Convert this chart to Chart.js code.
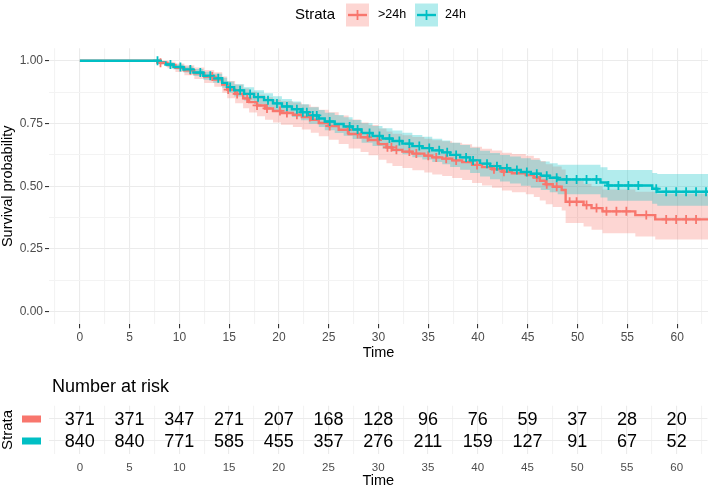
<!DOCTYPE html>
<html><head><meta charset="utf-8">
<script src="https://cdn.jsdelivr.net/npm/chart.js@4/dist/chart.umd.min.js"></script>
<style>
html,body{margin:0;padding:0;background:#fff;}
#wrap{position:relative;width:708px;height:490px;overflow:hidden;}
#c1{position:absolute;left:0;top:0;}
#c2{position:absolute;left:0;top:370px;}
</style></head><body>
<div id="wrap">
<canvas id="c1" width="708" height="370"></canvas>
<canvas id="c2" width="708" height="120"></canvas>
</div>
<script>
// ---------------- data ----------------
const strataLabels = ['>24h', '24h'];

const timeRed  = [0,8.1,8.8,9.6,10.5,11.5,12.5,13.5,14.3,14.8,15.6,16.4,17.0,17.8,18.6,19.4,20.2,21.4,22.3,23.2,24.0,25.0,26.0,27.0,28.2,29.0,30.0,30.8,31.4,32.4,33.4,34.6,35.4,36.4,37.4,38.4,39.4,40.4,41.4,42.4,43.4,44.8,45.6,46.2,46.8,47.5,48.4,48.8,50.6,51.4,52.5,55.8,57.8,63.5];
const survRed  = [1,.992,.983,.972,.962,.950,.937,.925,.905,.885,.868,.850,.835,.822,.810,.800,.792,.785,.776,.765,.752,.740,.725,.708,.695,.684,.668,.655,.645,.638,.630,.622,.615,.610,.603,.596,.585,.576,.568,.558,.552,.545,.535,.522,.508,.498,.485,.438,.425,.413,.400,.385,.368,.368];
const lowerRed = [1,.983,.970,.955,.942,.927,.911,.896,.873,.851,.831,.811,.794,.779,.765,.754,.745,.736,.726,.713,.699,.685,.668,.650,.636,.624,.606,.592,.581,.573,.564,.555,.547,.541,.533,.525,.513,.503,.494,.483,.476,.468,.457,.443,.428,.417,.403,.354,.340,.327,.313,.300,.288,.288];
const upperRed = [1,1,.996,.989,.982,.973,.963,.954,.937,.919,.905,.889,.876,.865,.855,.846,.839,.834,.826,.817,.805,.795,.782,.766,.754,.744,.730,.718,.709,.703,.696,.689,.683,.679,.673,.667,.657,.649,.642,.633,.628,.622,.613,.601,.588,.579,.567,.522,.510,.499,.487,.478,.470,.470];
const censorRed = [8.1,11.1,13.3,14.9,15.8,16.8,17.8,18.8,20.1,20.8,21.8,23.1,25.1,26.9,27.9,28.9,29.9,30.9,31.3,31.8,33.1,33.8,35.0,35.8,36.8,37.8,39.9,41.6,42.6,45.9,46.9,47.9,49.2,49.9,50.9,51.9,52.9,53.9,54.9,56.9,58.9,59.9,60.9,61.9];

const timeCyan  = [0,8.0,8.6,9.4,10.4,11.4,12.4,13.4,14.3,14.8,15.5,16.5,17.5,18.5,19.4,20.3,21.3,22.2,23.0,24.0,24.6,25.6,26.5,27.4,28.3,29.4,30.4,31.4,32.4,33.4,34.4,35.4,36.4,37.2,38.2,39.2,40.2,41.2,42.2,43.2,44.3,45.3,46.3,47.2,48.0,52.3,53.0,57.5,58.0,63.5];
const survCyan  = [1,.993,.985,.975,.965,.953,.940,.930,.912,.895,.882,.868,.855,.843,.830,.818,.807,.795,.782,.770,.758,.748,.738,.726,.712,.700,.690,.680,.670,.660,.652,.643,.635,.625,.615,.603,.590,.580,.572,.565,.557,.550,.542,.534,.527,.515,.503,.490,.478,.478];
const lowerCyan = [1,.987,.977,.965,.953,.939,.924,.912,.892,.873,.858,.842,.828,.815,.801,.788,.776,.763,.749,.736,.723,.712,.701,.688,.673,.660,.649,.638,.627,.616,.607,.597,.588,.577,.566,.553,.539,.528,.519,.511,.502,.494,.485,.476,.468,.455,.442,.430,.422,.422];
const upperCyan = [1,.999,.993,.985,.977,.967,.956,.948,.932,.917,.906,.894,.882,.871,.859,.848,.838,.827,.815,.804,.793,.784,.775,.764,.751,.740,.731,.722,.713,.704,.697,.689,.682,.673,.664,.653,.641,.632,.625,.619,.612,.606,.599,.592,.586,.576,.565,.553,.549,.549];
const censorCyan = [7.8,9.1,10.1,11.1,12.1,13.1,13.9,15.1,16.1,17.1,17.9,18.9,19.8,20.8,21.8,22.4,22.8,23.4,23.8,25.1,27.1,27.9,29.1,30.1,31.1,32.1,33.1,34.1,35.1,36.1,36.9,37.8,38.8,39.5,40.9,41.9,42.9,43.9,44.9,45.9,46.9,47.9,48.9,49.9,50.9,51.9,53.1,54.1,55.1,56.1,57.9,58.9,59.9,60.9,61.9,62.9];

const riskTimes = [0,5,10,15,20,25,30,35,40,45,50,55,60];
const riskRed   = [371,371,347,271,207,168,128,96,76,59,37,28,20];
const riskCyan  = [840,840,771,585,455,357,276,211,159,127,91,67,52];

// ---------------- styles ----------------
const RED = '#F8766D', CYAN = '#00BFC4';
const RED_BAND = 'rgba(248,118,109,0.3)', CYAN_BAND = 'rgba(0,191,196,0.3)';
const FONT = "'Liberation Sans', Arial, sans-serif";
Chart.defaults.font.family = FONT;
Chart.defaults.animation = false;

function pts(times, values) { return times.map((t, i) => ({x: t, y: values[i]})); }
function stepValue(times, values, t) {
  let v = values[0];
  for (let i = 0; i < times.length; i++) { if (times[i] <= t) v = values[i]; else break; }
  return v;
}
function censorPts(ct, times, values) { return ct.map(t => ({x: t, y: stepValue(times, values, t)})); }

const isMajorX = v => Math.abs(v / 5 - Math.round(v / 5)) < 1e-6;
const isMajorY = v => Math.abs(v * 4 - Math.round(v * 4)) < 1e-6;

const legendPlugin = {
  id: 'kmLegend',
  afterDraw(chart) {
    const ctx = chart.ctx;
    ctx.save();
    const cy = 15;
    ctx.fillStyle = '#000';
    ctx.textBaseline = 'middle';
    ctx.textAlign = 'left';
    ctx.font = '15px ' + FONT;
    ctx.fillText('Strata', 295, cy);
    const keys = [{x: 346, c: RED, b: RED_BAND, label: strataLabels[0], tx: 378},
                  {x: 415, c: CYAN, b: CYAN_BAND, label: strataLabels[1], tx: 445}];
    keys.forEach(k => {
      ctx.fillStyle = k.b;
      ctx.fillRect(k.x, cy - 11.5, 23, 23);
      ctx.strokeStyle = k.c;
      ctx.lineWidth = 2.4;
      ctx.beginPath(); ctx.moveTo(k.x + 2, cy); ctx.lineTo(k.x + 21, cy); ctx.stroke();
      ctx.lineWidth = 1.8;
      ctx.beginPath(); ctx.moveTo(k.x + 11.5, cy - 5); ctx.lineTo(k.x + 11.5, cy + 5); ctx.stroke();
      ctx.fillStyle = '#000';
      ctx.font = '12.5px ' + FONT;
      ctx.fillText(k.label, k.tx, cy);
    });
    ctx.restore();
  }
};

new Chart(document.getElementById('c1'), {
  type: 'line',
  data: {
    datasets: [
      {label: 'c24', data: censorPts(censorCyan, timeCyan, survCyan), showLine: false, pointStyle: 'cross', pointRadius: 4.5, pointBorderWidth: 1.8, pointBorderColor: CYAN, pointBackgroundColor: CYAN, order: 0},
      {label: 'c>24', data: censorPts(censorRed, timeRed, survRed), showLine: false, pointStyle: 'cross', pointRadius: 4.5, pointBorderWidth: 1.8, pointBorderColor: RED, pointBackgroundColor: RED, order: 1},
      {label: '24h', data: pts(timeCyan, survCyan), stepped: 'before', borderColor: CYAN, borderWidth: 2.4, pointRadius: 0, fill: false, order: 2},
      {label: '>24h', data: pts(timeRed, survRed), stepped: 'before', borderColor: RED, borderWidth: 2.4, pointRadius: 0, fill: false, order: 3},
      {label: 'u24', data: pts(timeCyan, upperCyan), stepped: 'before', borderColor: 'rgba(0,0,0,0)', borderWidth: 1, pointRadius: 0, backgroundColor: CYAN_BAND, fill: 5, order: 4},
      {label: 'l24', data: pts(timeCyan, lowerCyan), stepped: 'before', borderColor: 'rgba(0,0,0,0)', borderWidth: 1, pointRadius: 0, fill: false, order: 5},
      {label: 'u>24', data: pts(timeRed, upperRed), stepped: 'before', borderColor: 'rgba(0,0,0,0)', borderWidth: 1, pointRadius: 0, backgroundColor: RED_BAND, fill: 7, order: 6},
      {label: 'l>24', data: pts(timeRed, lowerRed), stepped: 'before', borderColor: 'rgba(0,0,0,0)', borderWidth: 1, pointRadius: 0, fill: false, order: 7}
    ]
  },
  options: {
    responsive: false,
    animation: false,
    layout: {autoPadding: false, padding: {top: 48.2, left: 0, right: 0, bottom: 0}},
    plugins: {legend: {display: false}, tooltip: {enabled: false}},
    scales: {
      x: {
        type: 'linear', min: -3.1, max: 63.1,
        afterFit: s => { s.height = 45.7; },
        border: {display: false},
        grid: {
          color: c => isMajorX(c.tick.value) ? '#ebebeb' : '#f3f3f3',
          lineWidth: 1.1,
          tickColor: c => isMajorX(c.tick.value) ? '#333333' : 'rgba(0,0,0,0)',
          tickLength: 4, tickWidth: 1.1
        },
        ticks: {
          stepSize: 2.5, includeBounds: false, autoSkip: false, maxRotation: 0, padding: 2,
          color: '#4d4d4d', font: {size: 12},
          callback: v => (isMajorX(v) && v >= 0) ? String(Math.round(v)) : ''
        },
        title: {display: true, text: 'Time', color: '#000', font: {size: 14.5}, padding: {top: 0, bottom: 8}}
      },
      y: {
        type: 'linear', min: -0.05, max: 1.05,
        afterFit: s => { s.width = 49; },
        border: {display: false},
        grid: {
          color: c => isMajorY(c.tick.value) ? '#ebebeb' : '#f3f3f3',
          lineWidth: 1.1,
          tickColor: c => isMajorY(c.tick.value) ? '#333333' : 'rgba(0,0,0,0)',
          tickLength: 4, tickWidth: 1.1
        },
        ticks: {
          stepSize: 0.125, includeBounds: false, autoSkip: false, padding: 2,
          color: '#4d4d4d', font: {size: 12},
          callback: v => isMajorY(v) ? v.toFixed(2) : ''
        },
        title: {display: true, text: 'Survival probability', color: '#000', font: {size: 14.5, lineHeight: 1.1}, padding: {top: 0, bottom: 0}}
      }
    }
  },
  plugins: [legendPlugin]
});

// ---------------- risk table ----------------
const riskPlugin = {
  id: 'riskTable',
  afterDraw(chart) {
    const ctx = chart.ctx;
    const xs = chart.scales.x, ys = chart.scales.y;
    ctx.save();
    ctx.fillStyle = '#000';
    ctx.textAlign = 'left';
    ctx.textBaseline = 'middle';
    ctx.font = '18px ' + FONT;
    ctx.fillText('Number at risk', 52, 17);
    ctx.textAlign = 'center';
    const rows = [{vals: riskRed, y: 2, c: RED}, {vals: riskCyan, y: 1, c: CYAN}];
    rows.forEach(r => {
      const py = ys.getPixelForValue(r.y);
      ctx.fillStyle = r.c;
      ctx.fillRect(22, py - 3.5, 19, 7);
      ctx.fillStyle = '#000';
      r.vals.forEach((v, i) => ctx.fillText(String(v), xs.getPixelForValue(riskTimes[i]), py + 1));
    });
    ctx.restore();
  }
};

new Chart(document.getElementById('c2'), {
  type: 'scatter',
  data: {datasets: [{data: [], pointRadius: 0}]},
  options: {
    responsive: false,
    animation: false,
    layout: {autoPadding: false, padding: {top: 35.8, left: 0, right: 0, bottom: 0}},
    plugins: {legend: {display: false}, tooltip: {enabled: false}},
    scales: {
      x: {
        type: 'linear', min: -3.1, max: 63.1,
        afterFit: s => { s.height = 35.8; },
        border: {display: false},
        grid: {color: c => isMajorX(c.tick.value) ? '#ebebeb' : '#f3f3f3', lineWidth: 1.1, drawTicks: false},
        ticks: {
          stepSize: 2.5, includeBounds: false, autoSkip: false, maxRotation: 0, padding: 6.5,
          color: '#4d4d4d', font: {size: 11.5},
          callback: v => (isMajorX(v) && v >= 0) ? String(Math.round(v)) : ''
        },
        title: {display: true, text: 'Time', color: '#000', font: {size: 14.5}, padding: {top: 0, bottom: 0}}
      },
      y: {
        type: 'linear', min: 0.4, max: 2.6,
        afterFit: s => { s.width = 49; },
        afterBuildTicks: s => { s.ticks = [{value: 1}, {value: 2}]; },
        border: {display: false},
        grid: {color: '#ebebeb', lineWidth: 1.1, drawTicks: false},
        ticks: {callback: () => '', padding: 0},
        title: {display: true, text: 'Strata', color: '#000', font: {size: 15, lineHeight: 1}, padding: {top: 0, bottom: 0}}
      }
    }
  },
  plugins: [riskPlugin]
});
</script>
</body></html>
